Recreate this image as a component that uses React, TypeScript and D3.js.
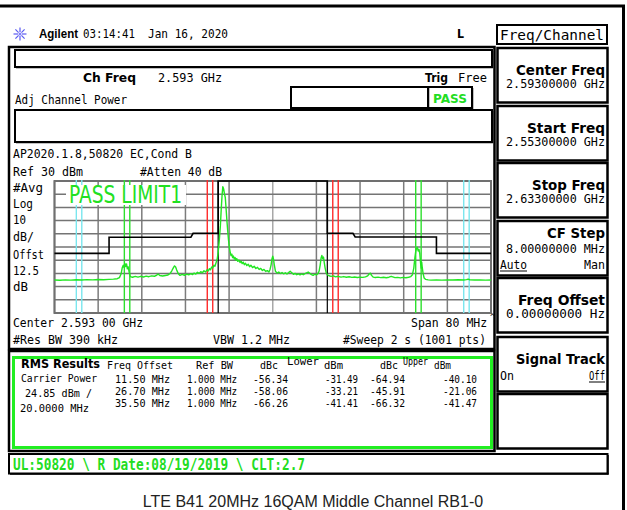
import React from 'react';
import * as d3 from 'd3';

// ---------- data ----------
const START_MHZ = 2553;
const STOP_MHZ = 2633;
const REF_DBM = 30;
const DB_PER_DIV = 10;
const DIVS = 10;

const rmsOffsetsMHz = [11.5, 26.7, 35.5];
const rmsRefBwMHz = [1.0, 1.0, 1.0];
const lowerDbc = [-56.34, -58.06, -66.26];
const lowerDbm = [-31.49, -33.21, -41.41];
const upperDbc = [-64.94, -45.91, -66.32];
const upperDbm = [-40.1, -21.06, -41.47];
const markerColors = ['#ff2a2a', '#2ee02e', '#7ae6ee'];

const channelEdgesMHz = [2583, 2603];

const limitFreqMHz = [2553, 2563, 2563, 2578, 2578.4, 2583, 2583, 2603, 2603, 2607.7, 2608.1, 2623, 2623, 2633];
const limitDbm = [-24.8, -24.8, -12.6, -12.6, -9.6, -9.6, 30, 30, -9.6, -9.6, -12.4, -12.4, -24.8, -24.8];

// [offset from start (MHz), level (dBm)]
const traceSamples: [number, number][] = [
  [0, -45.0], [1, -45.2], [2, -44.9], [3, -45.1], [4, -44.8], [5, -45.0], [6, -44.7], [7, -44.9], [8, -44.6], [9, -44.8],
  [10, -44.5], [10.8, -44.3], [11.5, -44.0], [11.9, -43.2], [12.2, -40.5], [12.4, -36.0], [12.6, -33.8], [12.75, -35.5],
  [12.9, -32.4], [13.05, -34.8], [13.2, -32.8], [13.35, -36.5], [13.5, -35.0], [13.7, -39.5], [13.9, -42.4], [14.3, -42.9],
  [14.8, -42.3], [15.3, -42.8], [15.8, -42.2], [16.3, -42.7], [16.8, -42.1], [17.3, -42.5], [17.8, -41.9], [18.3, -42.2],
  [18.7, -41.4], [19.0, -40.5], [19.3, -41.6], [19.8, -42.0], [20.3, -41.6], [20.8, -41.2], [21.2, -40.0], [21.5, -38.0],
  [21.8, -35.6], [22.0, -34.3], [22.2, -35.2], [22.4, -37.5], [22.7, -40.3], [23.0, -41.5], [23.4, -40.8], [23.8, -41.4],
  [24.2, -40.6], [24.6, -41.1], [25.0, -40.2], [25.3, -40.9], [25.6, -39.8], [25.9, -40.5], [26.2, -39.2], [26.5, -40.0],
  [26.8, -38.7], [27.1, -39.5], [27.4, -38.0], [27.7, -38.9], [28.0, -37.2], [28.2, -38.1], [28.4, -36.4], [28.6, -37.3],
  [28.8, -35.2], [29.0, -36.0], [29.2, -33.8], [29.4, -34.6], [29.6, -32.0], [29.8, -29.5], [30.0, -24.0], [30.2, -15.0],
  [30.4, -4.0], [30.55, 8.0], [30.7, 18.5], [30.85, 25.7], [31.0, 24.0], [31.15, 20.2], [31.3, 17.5], [31.45, 9.0],
  [31.6, 0.0], [31.75, -8.0], [31.9, -15.0], [32.05, -20.5], [32.2, -24.0], [32.35, -26.5], [32.5, -25.4], [32.65, -28.0],
  [32.8, -26.9], [32.95, -29.2], [33.1, -28.0], [33.25, -30.0], [33.4, -28.8], [33.6, -30.9], [33.8, -29.9], [34.0, -31.8],
  [34.2, -30.7], [34.4, -32.6], [34.6, -31.5], [34.8, -33.4], [35.0, -32.3], [35.25, -34.1], [35.5, -33.0], [35.75, -34.9],
  [36.0, -33.8], [36.3, -35.6], [36.6, -34.6], [36.9, -36.3], [37.2, -35.4], [37.5, -37.0], [37.8, -36.2], [38.1, -37.8],
  [38.4, -37.0], [38.7, -38.5], [39.0, -37.9], [39.3, -38.9], [39.5, -37.0], [39.7, -33.5], [39.85, -29.0], [40.0, -27.0],
  [40.15, -29.5], [40.3, -34.0], [40.5, -38.4], [40.8, -39.8], [41.1, -39.0], [41.4, -40.1], [41.7, -39.3], [42.0, -40.3],
  [42.3, -39.5], [42.6, -40.4], [42.9, -39.4], [43.2, -38.3], [43.5, -39.6], [43.8, -40.7], [44.1, -40.0], [44.4, -41.0],
  [44.7, -40.3], [45.0, -41.1], [45.3, -40.4], [45.6, -41.0], [45.9, -40.2], [46.2, -39.6], [46.5, -39.0], [46.8, -40.0],
  [47.1, -40.9], [47.4, -41.5], [47.7, -40.6], [48.0, -41.2], [48.3, -40.0], [48.5, -38.2], [48.7, -33.5], [48.85, -28.5],
  [49.0, -26.4], [49.15, -28.8], [49.3, -27.6], [49.45, -32.0], [49.6, -36.0], [49.8, -39.5], [50.0, -41.0], [50.3, -41.8],
  [50.7, -42.3], [51.1, -41.9], [51.5, -42.6], [52.0, -42.2], [52.5, -42.8], [53.0, -42.4], [53.5, -42.9], [54.0, -42.5],
  [54.5, -43.0], [55.0, -42.7], [55.5, -43.1], [56.0, -42.8], [56.5, -43.0], [57.0, -42.6], [57.4, -41.8], [57.7, -40.3],
  [57.9, -39.8], [58.1, -41.5], [58.4, -42.8], [58.8, -43.1], [59.3, -42.8], [59.8, -43.2], [60.3, -42.9], [60.8, -43.3],
  [61.3, -42.9], [61.7, -42.2], [62.0, -42.6], [62.4, -43.2], [62.9, -43.0], [63.4, -43.4], [63.9, -43.0], [64.4, -43.3],
  [64.9, -42.9], [65.3, -42.4], [65.6, -41.0], [65.85, -36.0], [66.05, -28.0], [66.2, -23.5], [66.35, -21.0], [66.5, -20.2],
  [66.65, -23.0], [66.8, -21.8], [66.95, -25.0], [67.1, -32.5], [67.2, -36.0], [67.3, -31.5], [67.4, -35.5], [67.55, -40.0],
  [67.75, -43.5], [68.0, -44.5], [68.5, -44.9], [69.0, -45.1], [70.0, -44.9], [71.0, -45.1], [72.0, -44.9], [73.0, -45.0],
  [74.0, -44.8], [75.0, -45.0], [75.5, -44.7], [75.8, -44.4], [76.1, -44.8], [77.0, -45.0], [78.0, -44.9], [79.0, -45.1],
  [80.0, -45.0],
];

const softkeys = [
  { title: 'Center Freq', tw: 89, value: '2.59300000 GHz' },
  { title: 'Start Freq', tw: 78, value: '2.55300000 GHz' },
  { title: 'Stop Freq', tw: 73, value: '2.63300000 GHz' },
  { title: 'CF Step', tw: 58, value: '8.00000000 MHz', sub: ['Auto', 'Man'] },
  { title: 'Freq Offset', tw: 87, value: '0.00000000  Hz' },
  { title: 'Signal Track', tw: 89, sub: ['On', 'Off'] },
  { title: '', tw: 0 },
];

// ---------- helpers ----------
const MONO = "'DejaVu Sans Mono', monospace";
const SANS = "'DejaVu Sans', sans-serif";
const ARIAL = "'Liberation Sans', Arial, sans-serif";

type TP = { x: number; y: number; t: string; w?: number; size?: number; bold?: boolean; fill?: string; anchor?: string; family?: string };
const T = ({ x, y, t, w, size = 13, bold = false, fill = '#000', anchor = 'start', family = MONO }: TP) => (
  <text
    x={x}
    y={y}
    fontSize={size}
    fontWeight={bold ? 'bold' : 'normal'}
    fill={fill}
    textAnchor={anchor as any}
    fontFamily={family}
    textLength={w}
    lengthAdjust={w ? 'spacingAndGlyphs' : undefined}
  >
    {t}
  </text>
);

const Box = ({ x, y, w, h, sw = 2 }: { x: number; y: number; w: number; h: number; sw?: number }) => (
  <g>
    <rect x={x} y={y} width={w} height={h} fill="none" stroke="#000" strokeWidth={sw} />
    <line x1={x + 1} y1={y + h + 0.5} x2={x + w + 1} y2={y + h + 0.5} stroke="#000" strokeWidth={1.5} />
    <line x1={x + w + 0.5} y1={y + 1} x2={x + w + 0.5} y2={y + h + 1} stroke="#000" strokeWidth={1.5} />
  </g>
);

export default function App() {
  const PX0 = 54.5, PX1 = 491, PY0 = 181, PY1 = 313;
  const x = d3.scaleLinear().domain([START_MHZ, STOP_MHZ]).range([PX0, PX1]);
  const y = d3.scaleLinear().domain([REF_DBM - DB_PER_DIV * DIVS, REF_DBM]).range([PY1, PY0]);
  const xGrid = d3.range(DIVS + 1).map((i) => START_MHZ + ((STOP_MHZ - START_MHZ) * i) / DIVS);
  const yGrid = d3.range(DIVS + 1).map((i) => REF_DBM - i * DB_PER_DIV);

  const traceLine = d3
    .line<[number, number]>()
    .x((d) => x(START_MHZ + d[0]))
    .y((d) => y(d[1]));
  const limitLine = d3
    .line<number>()
    .x((_, i) => x(limitFreqMHz[i]))
    .y((d) => y(d));

  const center = (START_MHZ + STOP_MHZ) / 2;
  const markers: { f: number; c: string }[] = [];
  rmsOffsetsMHz.forEach((off, i) => {
    const half = rmsRefBwMHz[i] / 2;
    [center - off - half, center - off + half, center + off - half, center + off + half].forEach((f) =>
      markers.push({ f, c: markerColors[i] })
    );
  });

  const rowY = [383, 395, 407];
  const colEnds = [170, 237, 288, 358, 405, 477];
  const colW = [55, 50, 35, 33, 35, 34];

  const star = d3.range(8).map((i) => (i * Math.PI) / 4);

  return (
    <svg width={627} height={510} style={{ position: 'absolute', left: 0, top: 0, background: '#fff' }}>
      <rect x={0} y={0} width={627} height={510} fill="#fff" />
      {/* outer frame */}
      <line x1={0} y1={6} x2={625} y2={6} stroke="#000" strokeWidth={3} />
      <line x1={623.5} y1={5} x2={623.5} y2={510} stroke="#000" strokeWidth={3} />

      {/* header */}
      <g>
        {star.map((a, i) => (
          <line key={i} x1={20 + Math.cos(a) * 2} y1={34 + Math.sin(a) * 2} x2={20 + Math.cos(a) * 6.5} y2={34 + Math.sin(a) * 6.5} stroke="#5a5af0" strokeWidth={1.2} />
        ))}
        <circle cx={20} cy={34} r={1.5} fill="#8080ff" />
      </g>
      <T x={39} y={38} t="Agilent" w={39} size={12} bold family={ARIAL} />
      <T x={83} y={38} t="03:14:41" w={52} size={13} />
      <T x={148} y={38} t="Jan 16, 2020" w={80} size={13} />
      <T x={457} y={38} t="L" w={7} size={13} bold family={SANS} />
      <rect x={497} y={25} width={110} height={19} fill="none" stroke="#000" strokeWidth={2} />
      <T x={500} y={40} t="Freq/Channel" w={104} size={14} />

      {/* screen panel */}
      <rect x={9} y={47} width={485.5} height={302} fill="none" stroke="#000" strokeWidth={2.5} />
      <Box x={15} y={50} w={477} h={17} />
      <T x={83} y={82} t="Ch Freq" w={53} size={13} bold family={SANS} />
      <T x={158} y={82} t="2.593 GHz" w={64} size={13} />
      <T x={425} y={82} t="Trig" w={23} size={12} bold family={SANS} />
      <T x={458} y={82} t="Free" w={29} size={12} />
      <T x={15} y={104} t="Adj Channel Power" w={112} size={13} />
      <Box x={291} y={87} w={137} h={21} />
      <Box x={428} y={87} w={44} h={21} />
      <T x={433} y={103} t="PASS" w={34} size={13} bold fill="#22dd22" family={SANS} />
      <Box x={15} y={110} w={477} h={32} />
      <T x={13} y={158} t="AP2020.1.8,50820 EC,Cond B" w={179} size={13} />
      <T x={13} y={176} t="Ref 30 dBm" w={70} size={13} />
      <T x={140} y={176} t="#Atten 40 dB" w={82} size={13} />
      {[
        ['#Avg', 192, 30],
        ['Log', 208, 20],
        ['10', 224, 13],
        ['dB/', 241, 21],
        ['Offst', 259, 31],
        ['12.5', 275, 26],
        ['dB', 291, 15],
      ].map(([t, yy, w]) => (
        <T key={t as string} x={13} y={yy as number} t={t as string} w={w as number} size={13} />
      ))}

      {/* plot grid */}
      {xGrid.map((f, i) => (
        <line key={'gx' + i} x1={x(f)} x2={x(f)} y1={PY0} y2={PY1} stroke={i === 5 ? '#a8a8a8' : '#7c7c7c'} strokeWidth={1.5} />
      ))}
      {yGrid.map((v, i) => (
        <line key={'gy' + i} x1={PX0} x2={PX1} y1={y(v)} y2={y(v)} stroke="#747474" strokeWidth={1.5} />
      ))}
      <rect x={PX0} y={PY0} width={PX1 - PX0} height={PY1 - PY0} fill="none" stroke="#707070" strokeWidth={2} />

      {/* markers */}
      {markers.map((m, i) => (
        <line key={'m' + i} x1={x(m.f)} x2={x(m.f)} y1={PY0 - 1} y2={PY1} stroke={m.c} strokeWidth={1.4} />
      ))}
      {channelEdgesMHz.map((f, i) => (
        <line key={'ce' + i} x1={x(f)} x2={x(f)} y1={PY0} y2={PY1} stroke="#000" strokeWidth={1.2} />
      ))}

      {/* PASS LIMIT1 */}
      <rect x={66} y={185} width={120} height={20} fill="#fff" />
      <T x={69} y={203} t="PASS LIMIT1" w={113} size={24} fill="#22e022" family={SANS} />

      {/* limit line */}
      <path d={limitLine(limitDbm) || ''} fill="none" stroke="#000" strokeWidth={1.6} />

      {/* trace */}
      <path d={traceLine(traceSamples) || ''} fill="none" stroke="#22e622" strokeWidth={1.4} strokeLinejoin="round" />

      {/* below plot */}
      <T x={411} y={327} t="Span 80 MHz" size={11.5} />
      <T x={490} y={320} t="^" size={8} />
      <T x={13} y={327} t="Center 2.593 00 GHz" w={130} size={13} />
      <T x={13} y={344} t="#Res BW 390 kHz" w={105} size={13} />
      <T x={213} y={344} t="VBW 1.2 MHz" w={77} size={13} />
      <T x={343} y={344} t="#Sweep 2 s (1001 pts)" w={143} size={13} />

      {/* RMS results */}
      <rect x={9} y={351} width={485.5} height={100} fill="none" stroke="#000" strokeWidth={2.5} />
      <rect x={13.5} y={357.5} width={478} height={90} fill="none" stroke="#22ee22" strokeWidth={3} />
      <T x={21} y={368} t="RMS Results" w={79} size={13} bold family={SANS} />
      <T x={107} y={369} t="Freq Offset" w={66} size={10.5} />
      <T x={196} y={369} t="Ref BW" w={37} size={10.5} />
      <T x={260} y={369} t="dBc" w={18} size={10.5} />
      <T x={287} y={365} t="Lower" w={32} size={10.5} />
      <T x={324} y={369} t="dBm" w={19} size={10.5} />
      <T x={380} y={369} t="dBc" w={18} size={10.5} />
      <T x={403} y={365} t="Upper" w={25} size={10.5} />
      <T x={434} y={369} t="dBm" w={17} size={10.5} />
      <T x={21} y={382} t="Carrier Power" w={76} size={11} />
      <T x={25} y={397} t="24.85 dBm /" w={67} size={11} />
      <T x={20} y={412} t="20.0000 MHz" w={69} size={11} />
      {rmsOffsetsMHz.map((off, i) => {
        const vals = [
          off.toFixed(2) + ' MHz',
          rmsRefBwMHz[i].toFixed(3) + ' MHz',
          lowerDbc[i].toFixed(2),
          lowerDbm[i].toFixed(2),
          upperDbc[i].toFixed(2),
          upperDbm[i].toFixed(2),
        ];
        return vals.map((v, j) => (
          <T key={'r' + i + j} x={colEnds[j]} y={rowY[i]} t={v} w={colW[j]} size={11} anchor="end" />
        ));
      })}

      {/* status bar */}
      <Box x={9} y={454} w={598.5} h={19.5} />
      <T x={13} y={470} t={'UL:50820 \\ R Date:08/19/2019 \\ CLT:2.7'} w={292} size={15} bold fill="#22dd22" />

      {/* softkeys */}
      {softkeys.map((k, i) => {
        const top = [48, 106, 163, 221, 278, 337, 394][i];
        const h = 54.5;
        const hasValue = !!k.value;
        const isCF = k.sub && hasValue;
        const titleY = isCF ? top + 17 : top + 27;
        const valueY = isCF ? top + 32 : top + 40;
        const subY = isCF ? top + 48 : top + 43;
        return (
          <g key={'sk' + i}>
            <rect x={497.5} y={top} width={110} height={h} fill="none" stroke="#000" strokeWidth={2.5} />
            {k.title && <T x={605} y={titleY} t={k.title} w={k.tw} size={14} bold anchor="end" family={SANS} />}
            {hasValue && <T x={605} y={valueY} t={k.value as string} w={99} size={11.5} anchor="end" />}
            {k.sub && (
              <g>
                <T x={500} y={subY} t={k.sub[0]} w={k.sub[0] === 'Auto' ? 27 : 14} size={12} />
                <T x={605} y={subY} t={k.sub[1]} w={k.sub[1] === 'Man' ? 21 : 16} size={12} anchor="end" />
                {k.sub[0] === 'Auto' ? (
                  <line x1={500} x2={527} y1={subY + 2} y2={subY + 2} stroke="#000" strokeWidth={1} />
                ) : (
                  <line x1={589} x2={605} y1={subY + 2} y2={subY + 2} stroke="#000" strokeWidth={1} />
                )}
              </g>
            )}
          </g>
        );
      })}

      {/* caption */}
      <T x={313} y={507} t="LTE B41 20MHz 16QAM Middle Channel RB1-0" size={16} anchor="middle" fill="#222" family={ARIAL} />
    </svg>
  );
}
